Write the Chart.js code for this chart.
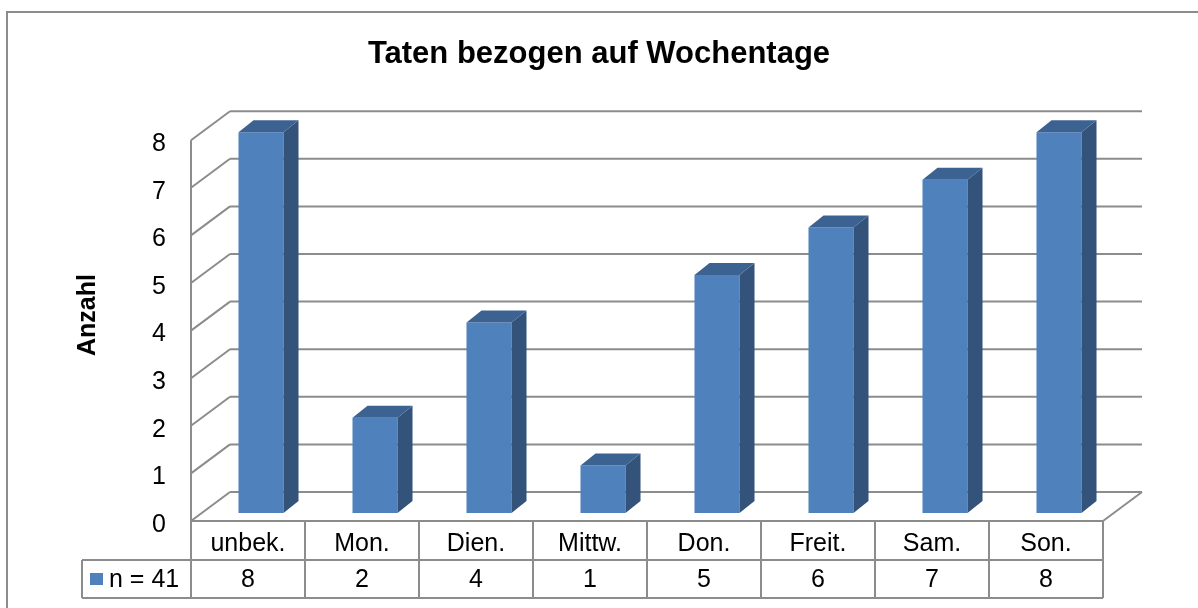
<!DOCTYPE html>
<html>
<head>
<meta charset="utf-8">
<script src="https://cdn.jsdelivr.net/npm/chart.js@4.4.1/dist/chart.umd.min.js"></script>
<style>
  html, body { margin: 0; padding: 0; background: #fff; overflow: hidden; }
  canvas { display: block; }
</style>
</head>
<body>
<canvas id="chart" width="1198" height="608"></canvas>
<script>
const categories = ["unbek.", "Mon.", "Dien.", "Mittw.", "Don.", "Freit.", "Sam.", "Son."];
const counts = [8, 2, 4, 1, 5, 6, 7, 8];
const seriesLabel = "n = 41";
const yTicks = [0, 1, 2, 3, 4, 5, 6, 7, 8];
const titleText = "Taten bezogen auf Wochentage";
const yTitle = "Anzahl";

const FONT = "'Liberation Sans', Arial, sans-serif";
const LINE = "#8c8c8c";
const FRONT = "#4f81bd", SIDE = "#34537b", TOP = "#3c6292";
// depth of the wall/floor box, bar placement inside it and bar thickness
const WALL_DX = 39, WALL_DY = -29;
const BAR_DX = 13, BAR_DY = -8;
const BAR_DEPTH_X = 15, BAR_DEPTH_Y = -12;

function line(ctx, x1, y1, x2, y2) {
  ctx.beginPath();
  ctx.moveTo(x1, y1);
  ctx.lineTo(x2, y2);
  ctx.stroke();
}

const box3d = {
  id: "box3d",
  beforeDraw(chart) {
    const ctx = chart.ctx;
    ctx.save();
    ctx.strokeStyle = LINE;
    ctx.lineWidth = 2;
    ctx.strokeRect(7, 12, 1400, 800);
    ctx.restore();
  },
  beforeDatasetsDraw(chart) {
    const { ctx, chartArea: a, scales: { y } } = chart;
    ctx.save();
    ctx.strokeStyle = LINE;
    ctx.lineWidth = 2;
    // left wall edge
    line(ctx, a.left, y.getPixelForValue(yTicks[yTicks.length - 1]), a.left, y.getPixelForValue(0));
    yTicks.forEach(v => {
      const py = y.getPixelForValue(v);
      line(ctx, a.left, py, a.left + WALL_DX, py + WALL_DY);
      line(ctx, a.left + WALL_DX, py + WALL_DY, a.right + WALL_DX, py + WALL_DY);
    });
    // floor right edge
    const p0 = y.getPixelForValue(0);
    line(ctx, a.right, p0, a.right + WALL_DX, p0 + WALL_DY);
    ctx.restore();
    // bars sit a little inside the box
    ctx.save();
    ctx.translate(BAR_DX, BAR_DY);
  },
  afterDatasetsDraw(chart) {
    const ctx = chart.ctx;
    const meta = chart.getDatasetMeta(0);
    meta.data.forEach(el => {
      const { x, y, base, width } = el.getProps(["x", "y", "base", "width"], true);
      const l = x - width / 2, r = x + width / 2;
      ctx.fillStyle = SIDE;
      ctx.beginPath();
      ctx.moveTo(r, y);
      ctx.lineTo(r + BAR_DEPTH_X, y + BAR_DEPTH_Y);
      ctx.lineTo(r + BAR_DEPTH_X, base + BAR_DEPTH_Y);
      ctx.lineTo(r, base);
      ctx.closePath();
      ctx.fill();
      ctx.fillStyle = TOP;
      ctx.beginPath();
      ctx.moveTo(l, y);
      ctx.lineTo(l + BAR_DEPTH_X, y + BAR_DEPTH_Y);
      ctx.lineTo(r + BAR_DEPTH_X, y + BAR_DEPTH_Y);
      ctx.lineTo(r, y);
      ctx.closePath();
      ctx.fill();
    });
    ctx.restore();
  },
  afterDraw(chart) {
    const { ctx, chartArea: a, scales: { x } } = chart;
    const y0 = a.bottom, y1 = a.bottom + 39, y2 = a.bottom + 77;
    const legendLeft = 82;
    const step = (a.right - a.left) / categories.length;
    ctx.save();
    ctx.strokeStyle = LINE;
    ctx.lineWidth = 2;
    line(ctx, a.left, y0, a.right, y0);
    line(ctx, legendLeft, y1, a.right, y1);
    line(ctx, legendLeft, y2, a.right, y2);
    line(ctx, legendLeft, y1, legendLeft, y2);
    for (let i = 0; i <= categories.length; i++) {
      const px = a.left + i * step;
      line(ctx, px, y0, px, y2);
    }
    // values row
    ctx.fillStyle = "#000";
    ctx.font = "25px " + FONT;
    ctx.textAlign = "center";
    ctx.textBaseline = "middle";
    counts.forEach((v, i) => {
      ctx.fillText(String(v), x.getPixelForValue(i), (y1 + y2) / 2 + 1);
    });
    // legend key
    ctx.fillStyle = FRONT;
    ctx.fillRect(90, (y1 + y2) / 2 - 6, 13, 12);
    ctx.fillStyle = "#000";
    ctx.textAlign = "left";
    ctx.fillText(seriesLabel, 109, (y1 + y2) / 2 + 1);
    // axis title, centred on the whole box height
    ctx.translate(88, 315);
    ctx.rotate(-Math.PI / 2);
    ctx.font = "bold 25px " + FONT;
    ctx.textAlign = "center";
    ctx.fillText(yTitle, 0, 0);
    ctx.restore();
  }
};

new Chart(document.getElementById("chart"), {
  type: "bar",
  data: {
    labels: categories,
    datasets: [{
      label: seriesLabel,
      data: counts,
      backgroundColor: FRONT,
      borderWidth: 0,
      barPercentage: 0.395,
      categoryPercentage: 1,
      clip: false,
    }],
  },
  options: {
    responsive: false,
    animation: false,
    devicePixelRatio: 1,
    layout: { padding: 0 },
    plugins: {
      legend: { display: false },
      tooltip: { enabled: false },
      title: {
        display: true,
        text: titleText,
        color: "#000",
        font: { family: FONT, size: 31, weight: "bold" },
        padding: { top: 36, bottom: 67 },
      },
    },
    scales: {
      x: {
        grid: { display: false },
        border: { display: false },
        ticks: { color: "#000", font: { family: FONT, size: 25 }, padding: 0, maxRotation: 0, autoSkip: false },
        afterFit(s) { s.height = 87; },
      },
      y: {
        min: 0,
        max: 8,
        grid: { display: false },
        border: { display: false },
        ticks: { stepSize: 1, color: "#000", font: { family: FONT, size: 25 }, padding: 17, labelOffset: 4 },
        afterFit(s) { s.width = 191; },
      },
      // empty right-hand strip so the plot ends where the data table ends
      spacer: {
        position: "right",
        grid: { display: false },
        border: { display: false },
        ticks: { display: false },
        afterFit(s) { s.width = 95; },
      },
    },
  },
  plugins: [box3d],
});
</script>
</body>
</html>
